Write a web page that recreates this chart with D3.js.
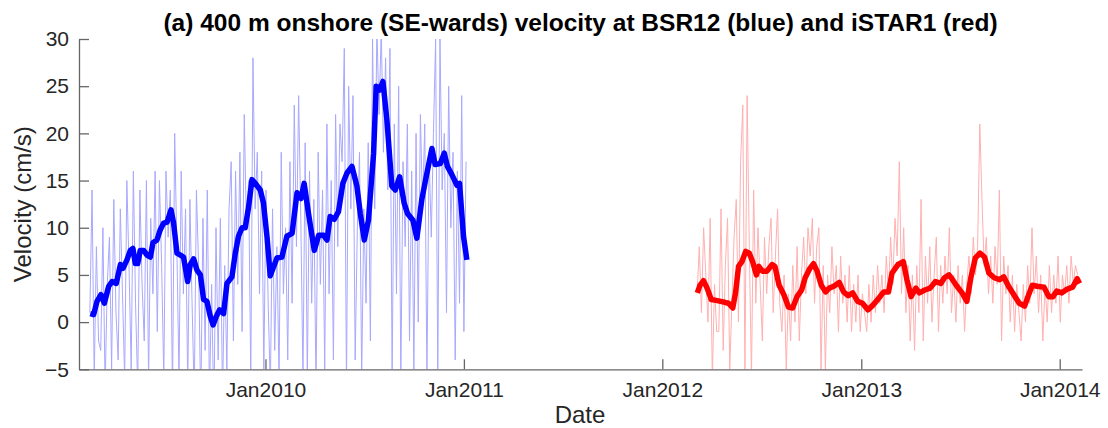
<!DOCTYPE html>
<html>
<head>
<meta charset="utf-8">
<script src="https://cdn.jsdelivr.net/npm/d3@7"></script>
<style>
  body { margin: 0; background: #fff; }
  text { font-family: "Liberation Sans", Arial, Helvetica, sans-serif; }
</style>
</head>
<body>
<div id="chart"></div>
<script>
// thick lines: 30-day smoothed velocity, [decimal year] and [cm/s]
const blue_smooth_t = [2009.117, 2009.134, 2009.151, 2009.171, 2009.188, 2009.210, 2009.227, 2009.248, 2009.269, 2009.282,
  2009.302, 2009.319, 2009.332, 2009.344, 2009.356, 2009.369, 2009.386, 2009.403, 2009.420, 2009.433,
  2009.453, 2009.470, 2009.487, 2009.504, 2009.524, 2009.537, 2009.554, 2009.571, 2009.587, 2009.608,
  2009.621, 2009.638, 2009.655, 2009.672, 2009.688, 2009.705, 2009.722, 2009.736, 2009.752, 2009.769,
  2009.789, 2009.806, 2009.831, 2009.848, 2009.864, 2009.882, 2009.898, 2009.915, 2009.932, 2009.949,
  2009.974, 2009.990, 2010.008, 2010.024, 2010.040, 2010.058, 2010.083, 2010.108, 2010.134, 2010.159,
  2010.179, 2010.195, 2010.217, 2010.246, 2010.268, 2010.293, 2010.310, 2010.326, 2010.347, 2010.368,
  2010.390, 2010.411, 2010.436, 2010.461, 2010.478, 2010.498, 2010.519, 2010.545, 2010.558, 2010.575,
  2010.592, 2010.612, 2010.637, 2010.654, 2010.676, 2010.699, 2010.716, 2010.743, 2010.763, 2010.788,
  2010.810, 2010.839, 2010.855, 2010.881, 2010.901, 2010.917, 2010.940, 2010.965, 2010.978, 2010.998, 2011.015]
const blue_smooth_v = [0.9, 0.8, 2.2, 2.9, 2.0, 3.8, 4.3, 4.1, 6.1, 5.7,
  6.6, 7.6, 7.8, 6.2, 6.2, 7.6, 7.6, 7.1, 6.9, 8.4,
  8.7, 9.8, 10.5, 10.6, 11.9, 10.5, 7.3, 7.1, 6.9, 4.3,
  6.1, 6.7, 5.5, 5.0, 2.4, 2.2, 0.6, -0.3, 0.6, 1.3,
  0.9, 4.1, 4.8, 7.3, 9.1, 10.0, 10.0, 12.2, 15.1, 14.7,
  14.0, 12.6, 9.0, 4.9, 5.8, 6.8, 6.9, 9.1, 9.4, 13.7,
  13.1, 14.7, 11.5, 7.6, 9.2, 9.2, 8.7, 11.2, 10.9, 11.7,
  14.7, 15.8, 16.5, 14.4, 11.5, 8.7, 10.8, 17.9, 25.0, 24.6,
  25.5, 21.4, 14.4, 14.0, 15.4, 12.6, 11.5, 10.8, 8.9, 13.0,
  15.4, 18.4, 16.7, 16.8, 17.9, 16.5, 15.6, 14.5, 14.7, 9.1, 6.6]

const red_smooth_t = [2012.176, 2012.189, 2012.207, 2012.225, 2012.246, 2012.270, 2012.293, 2012.314, 2012.332, 2012.354,
  2012.368, 2012.383, 2012.400, 2012.419, 2012.437, 2012.454, 2012.473, 2012.485, 2012.503, 2012.526,
  2012.552, 2012.566, 2012.587, 2012.611, 2012.634, 2012.655, 2012.677, 2012.700, 2012.718, 2012.742,
  2012.760, 2012.778, 2012.799, 2012.821, 2012.839, 2012.862, 2012.889, 2012.911, 2012.934, 2012.957,
  2012.982, 2013.006, 2013.033, 2013.059, 2013.087, 2013.113, 2013.137, 2013.155, 2013.185, 2013.212,
  2013.230, 2013.251, 2013.275, 2013.293, 2013.320, 2013.347, 2013.374, 2013.401, 2013.419, 2013.442,
  2013.460, 2013.482, 2013.508, 2013.532, 2013.553, 2013.575, 2013.598, 2013.621, 2013.643, 2013.670,
  2013.697, 2013.718, 2013.742, 2013.769, 2013.796, 2013.823, 2013.840, 2013.862, 2013.886, 2013.921,
  2013.945, 2013.966, 2013.985, 2014.011, 2014.038, 2014.065, 2014.088, 2014.100]
const red_smooth_v = [3.1, 3.9, 4.4, 3.6, 2.4, 2.3, 2.2, 2.1, 2.0, 1.5,
  3.1, 5.9, 6.4, 7.5, 7.3, 6.4, 5.0, 5.9, 5.4, 5.4,
  6.1, 5.9, 3.9, 2.9, 1.6, 1.5, 2.7, 3.4, 4.7, 5.7,
  6.2, 5.4, 3.9, 3.2, 3.6, 3.8, 4.2, 3.2, 2.8, 3.1,
  2.2, 2.0, 1.3, 1.8, 2.5, 3.2, 3.2, 5.2, 6.1, 6.4,
  4.5, 2.7, 3.6, 3.1, 3.4, 3.6, 4.3, 4.1, 4.7, 5.0,
  4.5, 3.8, 3.1, 2.2, 4.8, 6.8, 7.3, 6.9, 5.2, 4.7,
  4.5, 4.8, 3.8, 2.9, 2.0, 1.7, 2.7, 3.9, 3.8, 3.7,
  2.7, 2.7, 3.3, 3.1, 3.5, 3.7, 4.6, 4.1]

// thin lines: raw velocity, one value every 4 days from the start date
const step_days = 4
const blue_raw_start = "2009-02-12"
const blue_raw_v = [1, 14, -6, 8, -2, -3, 10, -7, 4, 9,
  -5, 13, 1, -4, 12, 3, -6, 15, 6, -5,
  16, 2, -7, 14, 4, -2, 15, -6, 11, 3,
  16, -1, 15, 6, -6, 16, 9, 14, -8, 20,
  8, -6, 16, 3, 12, -7, 13, 2, -8, 14,
  6, -9, 11, -3, 14, -8, 4, -10, 10, -4,
  11, -8, 6, -5, 12, 17, -2, 16, 4, 18,
  -1, 22, 10, 15, -6, 28, 12, 18, 3, 16,
  -5, 14, 2, -7, 12, -3, 8, -6, 18, 3,
  10, -4, 17, 2, 23, 8, 24, 11, -6, 19,
  -6, 16, 2, 13, -7, 18, 4, 14, -5, 21,
  3, 15, -4, 22, 8, 21, 17, 29, -7, 25,
  12, 24, -4, 10, 18, -6, 12, 2, 19, -2,
  30, 12, 31, 22, 31, 18, 28, 14, 29, -6,
  21, 3, 25, -6, 17, 8, 21, -2, 16, -5,
  20, 0, 22, 12, 21, -6, 18, 9, 20, 30,
  -6, 30, 14, 20, 1, 25, 10, 18, -4, 16,
  2, 24, -1, 17]

const red_raw_start = "2012-03-05"
const red_raw_v = [3, 8, 1, 10, 5, 0, 11, -6, 4, -1,
  -1, 12, -3, 6, 11, -5, 2, 9, 13, 0,
  17, 23, -5, 24, 8, -6, 14, 2, 10, 4,
  -2, 9, 3, 8, 11, 1, 7, 12, 2, -1,
  5, -5, 3, -2, 6, 0, 8, -2, 5, 9,
  3, 10, 7, 11, 2, 8, 10, -5, 6, -5,
  5, 1, 8, 3, 6, -1, 7, 2, 5, 0,
  6, -1, 4, 0, 5, -1, 3, 1, -1, 4,
  0, 5, 1, 6, 2, 5, 1, 7, 3, 9,
  4, 11, 7, 17, 3, 10, 1, 6, -2, 5,
  -3, 6, 1, 13, -2, 7, 2, 8, 0, 5,
  9, -1, 6, 2, 7, 3, 10, 1, 5, 0,
  6, 2, 5, -1, 4, 7, 3, 9, 5, 8,
  21, 13, 6, 9, 3, 7, 2, 8, 4, 14,
  -2, 7, 3, 6, 0, 5, -1, 4, 1, -2,
  4, 0, 6, 2, 10, 3, 7, 1, 5, -2,
  4, 0, 6, 1, 5, 2, 7, 0, 5, 3,
  6, 2, 7, 4, 6, 5]

const x_tick_years = [2010, 2011, 2012, 2013, 2014]
const y_ticks = [-5, 0, 5, 10, 15, 20, 25, 30]
const x_start = "2009-01-23", x_end = "2014-02-11"

const width = 1108, height = 428
const plot_left = 79, plot_right = 1082, plot_top = 39, plot_bottom = 369.3
const axis_color = "#666", label_color = "#262626"

const year_to_date = t => {
    const yr = Math.floor(t)
    const a = Date.UTC(yr, 0, 1), b = Date.UTC(yr + 1, 0, 1)
    return new Date(a + (t - yr) * (b - a))
}
const raw_series = (start, values) => {
    const t0 = new Date(start + "T00:00:00Z")
    return values.map((v, i) => ({ date: d3.utcDay.offset(t0, i * step_days), v }))
}
const smooth_series = (ts, vs) => ts.map((t, i) => ({ date: year_to_date(t), v: vs[i] }))

const svg = d3.select("#chart")
    .append("svg")
    .attr("width", width)
    .attr("height", height)
    .style("background", "#fff")

const x = d3.scaleUtc()
    .domain([new Date(x_start + "T00:00:00Z"), new Date(x_end + "T00:00:00Z")])
    .range([plot_left, plot_right])

const y = d3.scaleLinear()
    .domain([-5, 30])
    .range([plot_bottom, plot_top])

svg.append("clipPath")
    .attr("id", "plot-clip")
    .append("rect")
    .attr("x", plot_left)
    .attr("y", plot_top)
    .attr("width", plot_right - plot_left)
    .attr("height", plot_bottom - plot_top)

const line = d3.line()
    .x(d => x(d.date))
    .y(d => y(d.v))

const plot = svg.append("g").attr("clip-path", "url(#plot-clip)")

plot.append("path")
    .datum(raw_series(blue_raw_start, blue_raw_v))
    .attr("fill", "none")
    .attr("stroke", "#a8a8ff")
    .attr("stroke-width", 1)
    .attr("d", line)

plot.append("path")
    .datum(raw_series(red_raw_start, red_raw_v))
    .attr("fill", "none")
    .attr("stroke", "#ffb0b0")
    .attr("stroke-width", 1)
    .attr("d", line)

plot.append("path")
    .datum(smooth_series(blue_smooth_t, blue_smooth_v))
    .attr("fill", "none")
    .attr("stroke", "#0000ff")
    .attr("stroke-width", 5.5)
    .attr("stroke-linejoin", "round")
    .attr("d", line)

plot.append("path")
    .datum(smooth_series(red_smooth_t, red_smooth_v))
    .attr("fill", "none")
    .attr("stroke", "#ff0000")
    .attr("stroke-width", 5.5)
    .attr("stroke-linejoin", "round")
    .attr("d", line)

// axes, MATLAB style: ticks point inwards, no box
const x_axis = svg.append("g")
    .attr("transform", `translate(0, ${plot_bottom})`)
    .call(d3.axisBottom(x)
        .tickValues(x_tick_years.map(yr => new Date(Date.UTC(yr, 0, 1))))
        .tickFormat(d3.utcFormat("%b%Y"))
        .tickSizeInner(-10)
        .tickSizeOuter(0)
        .tickPadding(12.5))

const y_axis = svg.append("g")
    .attr("transform", `translate(${plot_left}, 0)`)
    .call(d3.axisLeft(y)
        .tickValues(y_ticks)
        .tickSizeInner(-10)
        .tickSizeOuter(0)
        .tickPadding(10))

for (const ax of [x_axis, y_axis]) {
    ax.select(".domain").attr("stroke", axis_color).attr("stroke-width", 1.3)
    ax.selectAll(".tick line").attr("stroke", axis_color).attr("stroke-width", 1.3)
    ax.selectAll(".tick text")
        .attr("fill", label_color)
        .style("font-size", "21px")
        .style("font-family", "'Liberation Sans', Arial, sans-serif")
}

svg.append("text")
    .attr("x", 580)
    .attr("y", 423)
    .attr("text-anchor", "middle")
    .attr("fill", label_color)
    .style("font-size", "24px")
    .text("Date")

svg.append("text")
    .attr("transform", `translate(31, ${(plot_top + plot_bottom) / 2}) rotate(-90)`)
    .attr("text-anchor", "middle")
    .attr("fill", label_color)
    .style("font-size", "24px")
    .text("Velocity (cm/s)")

svg.append("text")
    .attr("x", 580.5)
    .attr("y", 31)
    .attr("text-anchor", "middle")
    .attr("font-weight", "bold")
    .attr("fill", "#000")
    .style("font-size", "24.5px")
    .text("(a) 400 m onshore (SE-wards) velocity at BSR12 (blue) and iSTAR1 (red)")
</script>
</body>
</html>
